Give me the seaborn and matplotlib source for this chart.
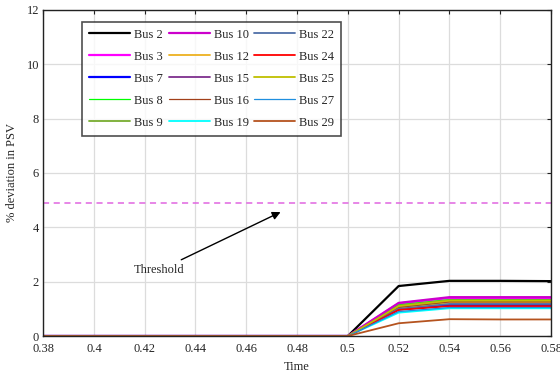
import numpy as np
import pandas as pd
import matplotlib
matplotlib.use("Agg")
import matplotlib.pyplot as plt
import seaborn as sns

# time axis and per-bus deviation (%)
time = [0.38, 0.40, 0.42, 0.44, 0.46, 0.48, 0.50, 0.52, 0.54, 0.56, 0.58]
pre = [0, 0, 0, 0, 0, 0, 0]

bus_2 = pre + [1.84, 2.03, 2.03, 2.02]
bus_3 = pre + [1.20, 1.40, 1.40, 1.40]
bus_7 = pre + [0.98, 1.14, 1.14, 1.14]
bus_8 = pre + [1.15, 1.34, 1.34, 1.34]
bus_9 = pre + [1.12, 1.32, 1.32, 1.32]
bus_10 = pre + [1.22, 1.43, 1.43, 1.43]
bus_12 = pre + [1.04, 1.23, 1.23, 1.23]
bus_15 = pre + [1.08, 1.28, 1.28, 1.28]
bus_16 = pre + [1.06, 1.26, 1.26, 1.26]
bus_19 = pre + [0.86, 1.02, 1.02, 1.02]
bus_22 = pre + [1.00, 1.18, 1.18, 1.18]
bus_24 = pre + [0.96, 1.10, 1.10, 1.10]
bus_25 = pre + [1.10, 1.30, 1.30, 1.30]
bus_27 = pre + [0.90, 1.05, 1.05, 1.05]
bus_29 = pre + [0.47, 0.62, 0.61, 0.61]

threshold = 4.9

series = {
    "Bus 2": (bus_2, "#000000", 1.6),
    "Bus 3": (bus_3, "#ff00ff", 1.6),
    "Bus 7": (bus_7, "#0000ff", 1.6),
    "Bus 8": (bus_8, "#00ff00", 0.9),
    "Bus 9": (bus_9, "#77ac30", 1.3),
    "Bus 10": (bus_10, "#cc00cc", 1.6),
    "Bus 12": (bus_12, "#edb120", 1.3),
    "Bus 15": (bus_15, "#7e2f8e", 1.3),
    "Bus 16": (bus_16, "#a2401a", 0.9),
    "Bus 19": (bus_19, "#00ffff", 1.3),
    "Bus 22": (bus_22, "#4f6fa8", 1.3),
    "Bus 24": (bus_24, "#ff0000", 1.3),
    "Bus 25": (bus_25, "#bfbf00", 1.3),
    "Bus 27": (bus_27, "#1f8fdf", 0.9),
    "Bus 29": (bus_29, "#b5531f", 1.3),
}

sns.set_style("whitegrid")
plt.rcParams["font.family"] = ["Liberation Serif", "DejaVu Serif"]

fig = plt.figure(figsize=(5.6, 3.78), dpi=100)
ax = fig.add_axes([0.077, 0.111, 0.907, 0.863])

for name, (vals, color, lw) in series.items():
    df = pd.DataFrame({"time": time, "dev": vals})
    sns.lineplot(data=df, x="time", y="dev", color=color, linewidth=lw,
                 label=name, ax=ax)

ax.axhline(threshold, color="#e066e0", linestyle=(0, (4, 3)), linewidth=1.1)

ax.annotate("Threshold", xy=(0.4735, 4.56), xytext=(0.4258, 2.42),
            ha="center", va="center", fontsize=9,
            arrowprops=dict(arrowstyle="-|>", color="black", lw=1.0,
                            mutation_scale=12, shrinkA=2, shrinkB=0))

ax.set_xlim(0.38, 0.58)
ax.set_ylim(0, 12)
ax.set_xticks(np.arange(0.38, 0.581, 0.02))
ax.set_xticklabels(["0.38", "0.4", "0.42", "0.44", "0.46", "0.48", "0.5",
                    "0.52", "0.54", "0.56", "0.58"])
ax.set_yticks(range(0, 13, 2))
ax.set_xlabel("Time", fontsize=9, labelpad=4)
ax.set_ylabel("% deviation in PSV", fontsize=9, labelpad=6)
ax.tick_params(direction="in", length=3, width=0.8, labelsize=9, pad=3,
               top=True, right=True, color="#222222")
ax.tick_params(axis="x", pad=5)
ax.grid(True, color="#dcdcdc", linewidth=0.9)
for s in ax.spines.values():
    s.set_color("#222222")
    s.set_linewidth(1.0)

leg = ax.legend(ncol=3, loc="upper left", bbox_to_anchor=(0.077, 0.963),
                fontsize=9, frameon=True, fancybox=False, handlelength=3.3,
                columnspacing=0.45, handletextpad=0.3, labelspacing=0.8,
                borderpad=0.55, borderaxespad=0)
leg.get_frame().set_edgecolor("#222222")
leg.get_frame().set_linewidth(1.2)

fig.savefig("out.png", dpi=100)
